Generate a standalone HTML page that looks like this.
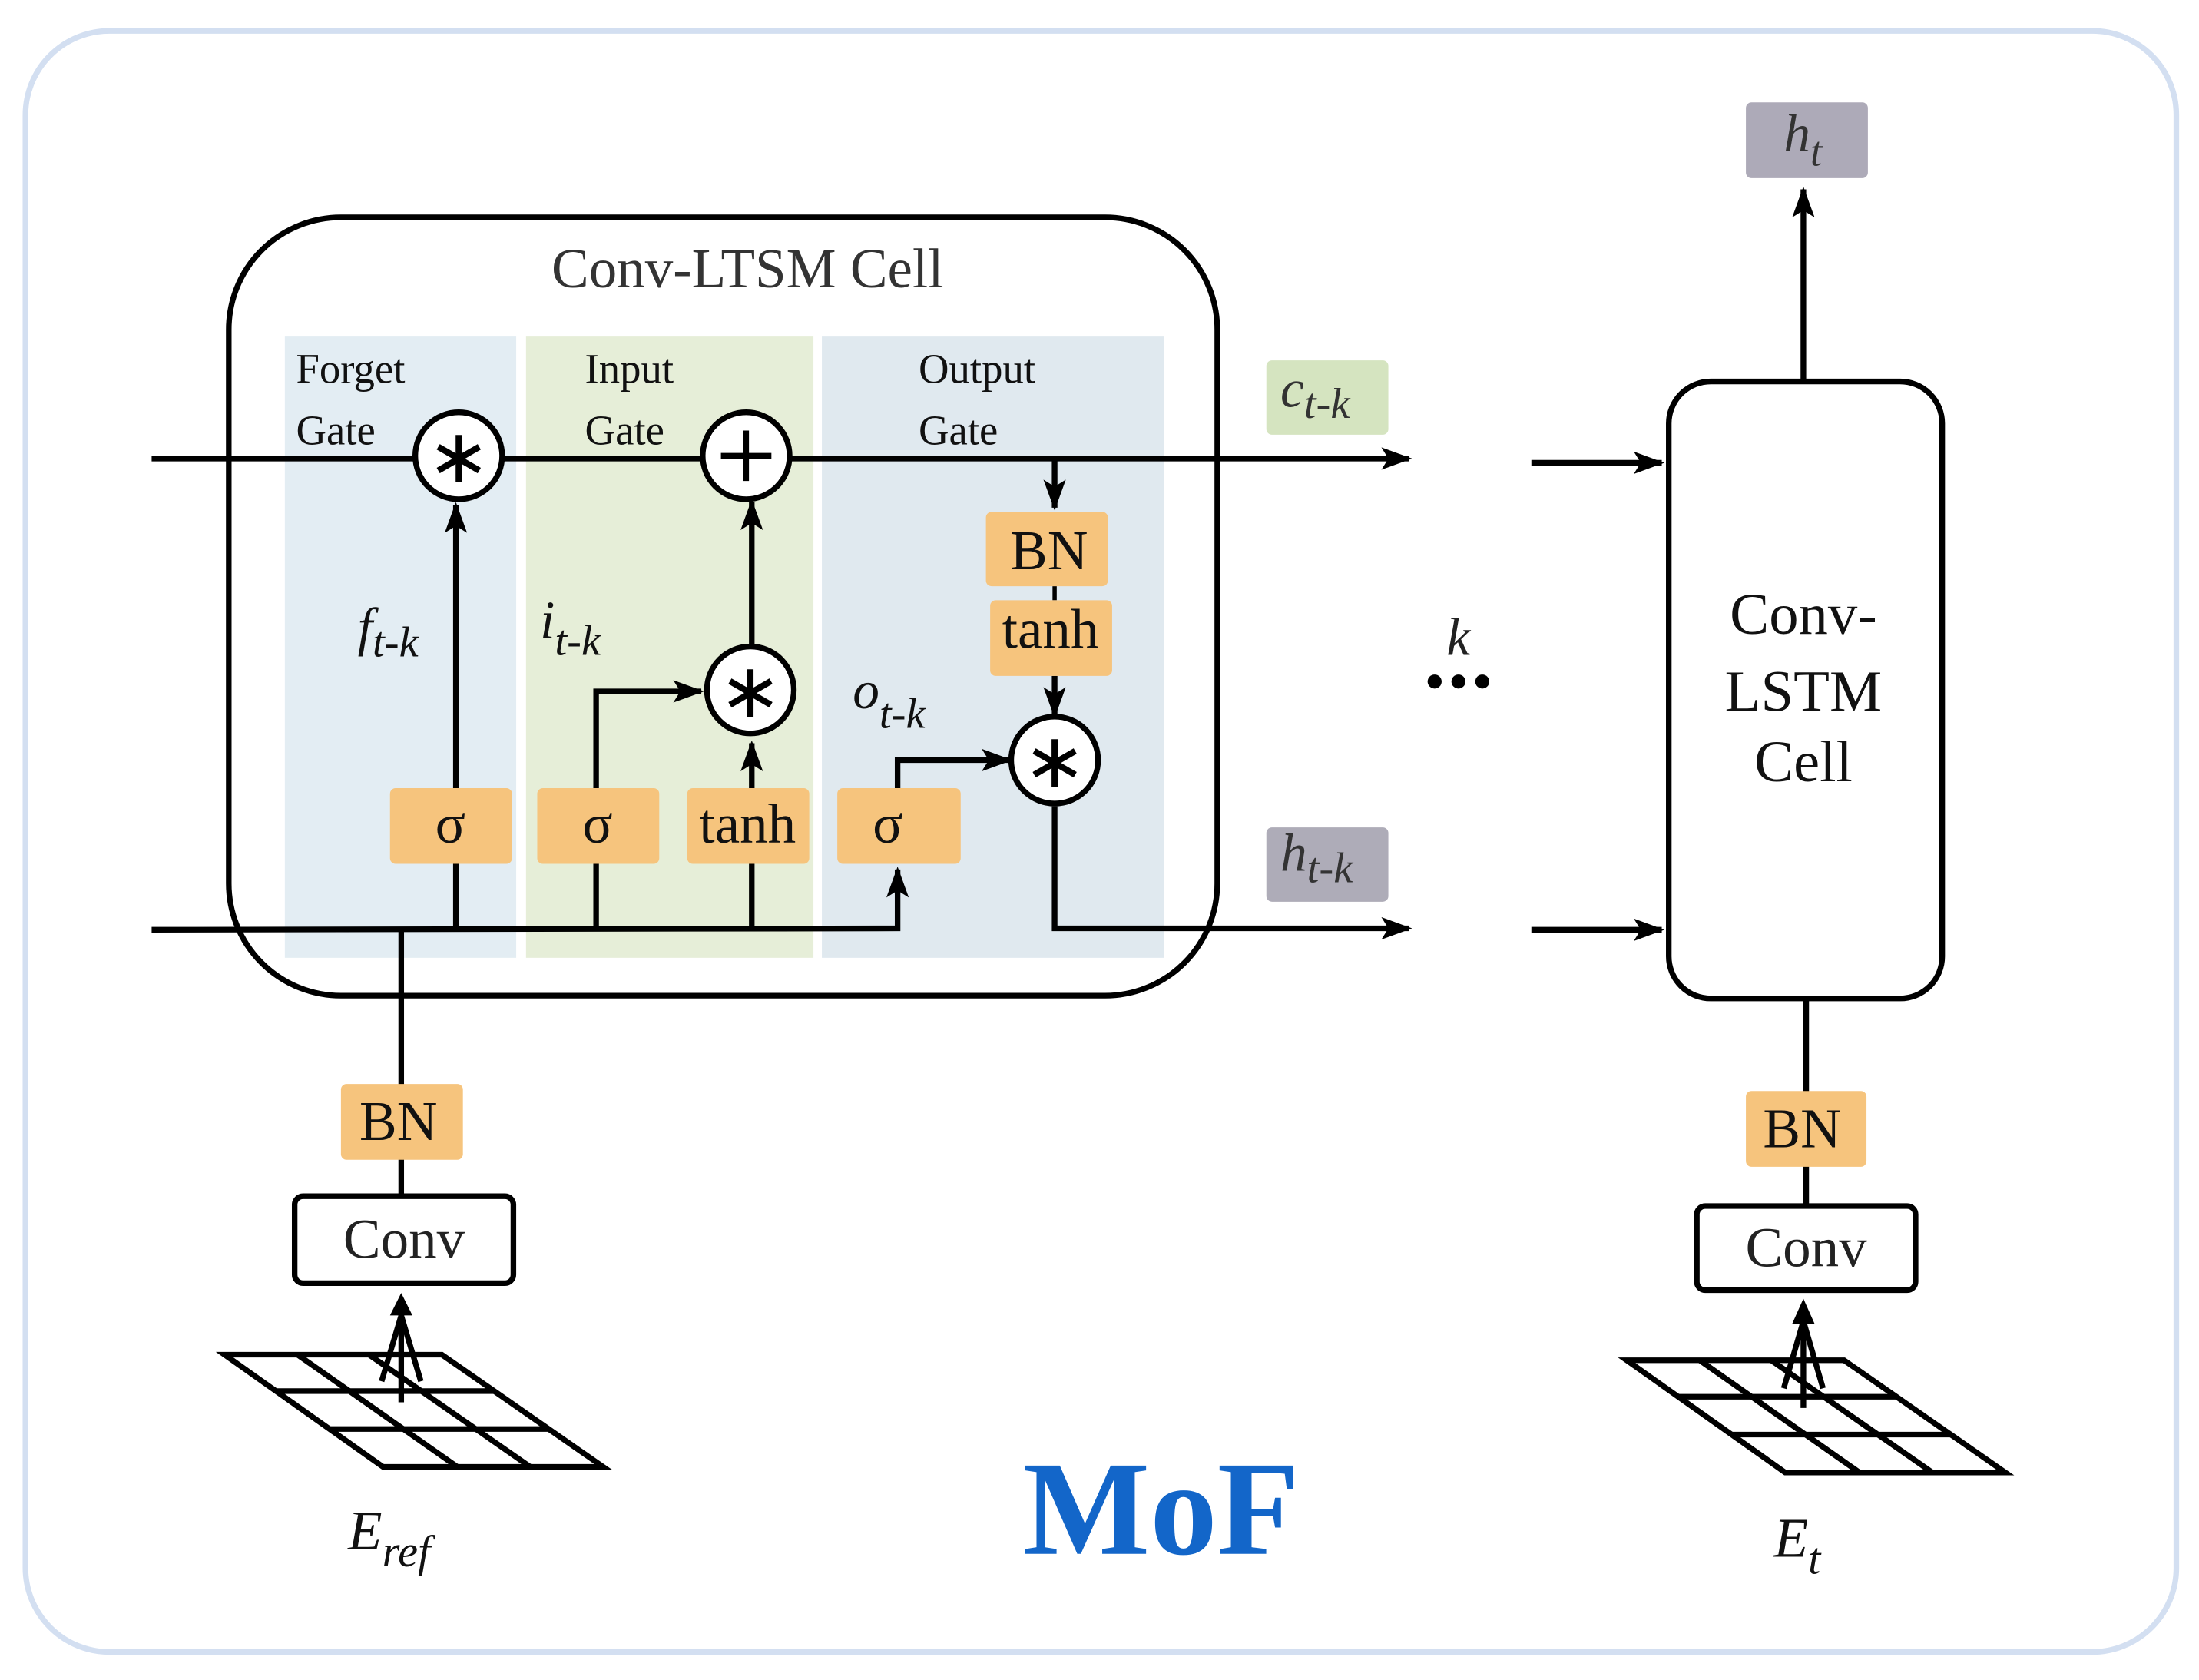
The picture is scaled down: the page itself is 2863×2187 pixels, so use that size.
<!DOCTYPE html>
<html><head><meta charset="utf-8"><style>html,body{margin:0;padding:0;background:#fff}svg{display:block}</style></head>
<body>
<svg width="2863" height="2187" viewBox="0 0 1568 1198" xmlns="http://www.w3.org/2000/svg" font-family="Liberation Serif, serif">
<defs>
<marker id="b" markerWidth="22" markerHeight="16" refX="20" refY="8" orient="auto" markerUnits="userSpaceOnUse"><path d="M0,0 L22,8 L0,16 L5,8 Z" fill="#000"/></marker>
</defs>
<rect x="18" y="22" width="1534" height="1156" rx="60" fill="#fff" stroke="#d3dff1" stroke-width="4"/>
<rect x="203" y="240" width="165" height="443" fill="#e3edf3"/>
<rect x="375" y="240" width="205" height="443" fill="#e6eed8"/>
<rect x="586" y="240" width="244" height="443" fill="#e0e9ef"/>
<rect x="163" y="155" width="705" height="555" rx="80" fill="none" stroke="#000" stroke-width="4"/>
<text x="533" y="205" font-size="40" text-anchor="middle" fill="#333">Conv-LTSM Cell</text>
<g font-size="30" fill="#111">
<text x="211" y="273">Forget</text><text x="211" y="317">Gate</text>
<text x="417" y="273">Input</text><text x="417" y="317">Gate</text>
<text x="655" y="273">Output</text><text x="655" y="317">Gate</text>
</g>
<g stroke="#000" stroke-width="4" fill="none">
<line x1="108" y1="327" x2="1005" y2="327" marker-end="url(#b)"/>
<polyline points="108,663 640,662 640,620" marker-end="url(#b)"/>
<polyline points="752,575 752,662 1005,662" marker-end="url(#b)"/>
<line x1="325" y1="663" x2="325" y2="616"/><line x1="325" y1="562" x2="325" y2="360" marker-end="url(#b)"/>
<line x1="425" y1="663" x2="425" y2="616"/><polyline points="425,562 425,493 500,493" marker-end="url(#b)"/>
<line x1="536" y1="663" x2="536" y2="616"/><line x1="536" y1="562" x2="536" y2="530" marker-end="url(#b)"/>
<line x1="536" y1="460" x2="536" y2="358" marker-end="url(#b)"/>
<polyline points="640,562 640,542 720,542" marker-end="url(#b)"/>
<line x1="752" y1="327" x2="752" y2="362" marker-end="url(#b)"/>
<line x1="752" y1="418" x2="752" y2="428" stroke-width="3"/>
<line x1="752" y1="482" x2="752" y2="510" marker-end="url(#b)"/>
<line x1="1092" y1="330" x2="1185" y2="330" marker-end="url(#b)"/>
<line x1="1092" y1="663" x2="1185" y2="663" marker-end="url(#b)"/>
<line x1="1286" y1="272" x2="1286" y2="135" marker-end="url(#b)"/>
<line x1="1288" y1="712" x2="1288" y2="860"/>
<line x1="286" y1="663" x2="286" y2="853"/>
</g>
<g fill="#f6c47d">
<rect x="278" y="562" width="87" height="54" rx="4"/>
<rect x="383" y="562" width="87" height="54" rx="4"/>
<rect x="490" y="562" width="87" height="54" rx="4"/>
<rect x="597" y="562" width="88" height="54" rx="4"/>
<rect x="703" y="365" width="87" height="53" rx="4"/>
<rect x="706" y="428" width="87" height="54" rx="4"/>
<rect x="243" y="773" width="87" height="54" rx="4"/>
<rect x="1245" y="778" width="86" height="54" rx="4"/>
</g>
<g font-size="40" text-anchor="middle" fill="#111">
<text x="321" y="601">σ</text><text x="426" y="601">σ</text><text x="533" y="601">tanh</text><text x="633" y="601">σ</text>
<text x="748" y="406">BN</text><text x="749" y="462">tanh</text>
<text x="284" y="813">BN</text><text x="1285" y="818">BN</text>
</g>
<g stroke="#000" stroke-width="4" fill="#fff">
<circle cx="327" cy="325" r="31"/><circle cx="532" cy="325" r="31"/>
<circle cx="535" cy="492" r="31"/><circle cx="752" cy="542" r="31"/>
</g>
<g stroke="#000" stroke-width="4">
<line x1="532" y1="307" x2="532" y2="343"/><line x1="514" y1="325" x2="550" y2="325"/>
</g>
<g font-size="54" text-anchor="middle" fill="#000" font-family="DejaVu Sans, sans-serif">
<text x="327" y="344">∗</text><text x="535" y="511">∗</text><text x="752" y="561">∗</text>
</g>
<g font-size="38" font-style="italic" fill="#111">
<text x="255" y="460">f<tspan font-size="31" dy="8">t-k</tspan></text>
<text x="385" y="455">i<tspan font-size="31" dy="12">t-k</tspan></text>
<text x="608" y="505">o<tspan font-size="31" dy="14">t-k</tspan></text>
</g>
<rect x="903" y="257" width="87" height="53" rx="4" fill="#d5e4c0"/>
<text x="913" y="290" font-size="38" font-style="italic" fill="#333">c<tspan font-size="31" dy="8">t-k</tspan></text>
<rect x="903" y="590" width="87" height="53" rx="4" fill="#aeacb8"/>
<text x="913" y="621" font-size="38" font-style="italic" fill="#333">h<tspan font-size="31" dy="8">t-k</tspan></text>
<rect x="1245" y="73" width="87" height="54" rx="4" fill="#adaab8"/>
<text x="1272" y="108" font-size="38" font-style="italic" fill="#333">h<tspan font-size="30" dy="10">t</tspan></text>
<text x="1040" y="467" font-size="38" font-style="italic" text-anchor="middle" fill="#222">k</text>
<circle cx="1023" cy="486" r="5"/><circle cx="1040" cy="486" r="5"/><circle cx="1057" cy="486" r="5"/>
<rect x="1190" y="272" width="195" height="440" rx="30" fill="none" stroke="#000" stroke-width="4"/>
<g font-size="42" text-anchor="middle" fill="#111">
<text x="1286" y="452">Conv-</text><text x="1286" y="507">LSTM</text><text x="1286" y="557">Cell</text>
</g>
<rect x="210" y="853" width="156" height="62" rx="6" fill="#fff" stroke="#000" stroke-width="4"/>
<text x="288" y="897" font-size="40" text-anchor="middle" fill="#222">Conv</text>
<rect x="1210" y="860" width="156" height="60" rx="6" fill="#fff" stroke="#000" stroke-width="4"/>
<text x="1288" y="903" font-size="40" text-anchor="middle" fill="#222">Conv</text>
<g stroke="#000" stroke-width="4" fill="none">
<polygon points="160,966 315,966 430,1046 273,1046"/>
<line x1="197" y1="992" x2="352" y2="992"/><line x1="235" y1="1019" x2="391" y2="1019"/>
<line x1="212" y1="966" x2="326" y2="1046"/><line x1="263" y1="966" x2="378" y2="1046"/>
<line x1="286" y1="1000" x2="286" y2="935"/>
<line x1="272" y1="985" x2="286" y2="938"/><line x1="300" y1="985" x2="286" y2="938"/>
<polygon points="1160,970 1315,970 1430,1050 1273,1050"/>
<line x1="1197" y1="996" x2="1352" y2="996"/><line x1="1235" y1="1023" x2="1391" y2="1023"/>
<line x1="1212" y1="970" x2="1326" y2="1050"/><line x1="1263" y1="970" x2="1378" y2="1050"/>
<line x1="1286" y1="1004" x2="1286" y2="940"/>
<line x1="1272" y1="990" x2="1286" y2="942"/><line x1="1300" y1="990" x2="1286" y2="942"/>
</g>
<path d="M278,938 L286,922 L294,938 Z"/><path d="M1278,944 L1286,926 L1294,944 Z"/>
<text x="248" y="1105" font-size="40" font-style="italic" fill="#111">E<tspan font-size="32" dy="12">ref</tspan></text>
<text x="1265" y="1110" font-size="40" font-style="italic" fill="#111">E<tspan font-size="32" dy="12">t</tspan></text>
<text x="828" y="1108" font-size="96" font-weight="bold" text-anchor="middle" fill="#1366c9">MoF</text>
</svg>
</body></html>
